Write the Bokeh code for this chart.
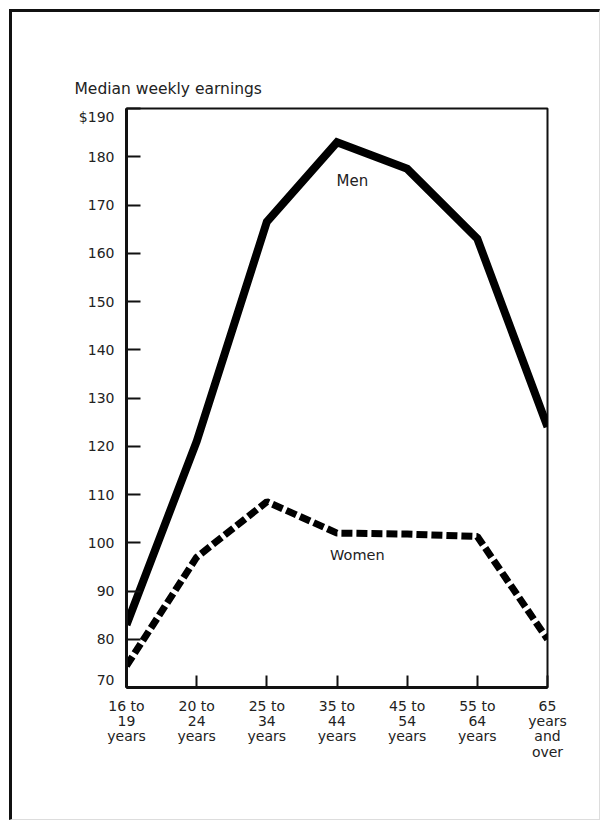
from bokeh.plotting import figure
from bokeh.models import FixedTicker, ColumnDataSource, Label
from bokeh.embed import file_html
from bokeh.resources import INLINE

# ---- data ----
age_groups = ["16 to\n19\nyears", "20 to\n24\nyears", "25 to\n34\nyears",
              "35 to\n44\nyears", "45 to\n54\nyears", "55 to\n64\nyears",
              "65\nyears\nand\nover"]
men = [83, 121, 166.5, 183, 177.5, 163, 124]
women = [74.5, 97, 108.5, 102, 101.8, 101.3, 80]
y_ticks = [70, 80, 90, 100, 110, 120, 130, 140, 150, 160, 170, 180, 190]
y_labels = ["70\n", "80", "90", "100", "110", "120", "130", "140", "150", "160", "170", "180", "\n$190"]

FONT = "DejaVu Sans"
idx = list(range(len(age_groups)))

p = figure(width=591, height=811, output_backend="svg", toolbar_location=None,
           x_range=(0, 6), y_range=(70, 190),
           min_border_left=114, min_border_right=56, min_border_top=96, min_border_bottom=136,
           title="Median weekly earnings")
p.styles = {"border-left": "3px solid #111", "border-top": "3px solid #111",
            "border-right": "1px solid #ddd", "border-bottom": "1px solid #ddd",
            "margin-left": "9px", "margin-top": "9px"}

p.title.text_font = FONT
p.title.text_font_style = "normal"
p.title.text_font_size = "15.5px"
p.title.text_color = "#222"
p.title.align = "left"
p.title.offset = -52
p.title.standoff = 21

p.outline_line_color = "#111"
p.outline_line_width = 2
p.xgrid.visible = False
p.ygrid.visible = False
p.background_fill_color = "white"

src_m = ColumnDataSource(dict(x=idx, y=men))
src_w = ColumnDataSource(dict(x=idx, y=women))
p.line("x", "y", source=src_m, line_color="black", line_width=8, line_join="miter")
p.line("x", "y", source=src_w, line_color="black", line_width=7, line_dash="11 4", line_cap="butt")

p.yaxis.ticker = FixedTicker(ticks=y_ticks)
p.yaxis.major_label_overrides = {t: l for t, l in zip(y_ticks, y_labels)}
p.xaxis.ticker = FixedTicker(ticks=idx)
p.xaxis.major_label_overrides = {i: l for i, l in zip(idx, age_groups)}

for ax in (p.xaxis[0], p.yaxis[0]):
    ax.axis_line_color = "#111"
    ax.axis_line_width = 3
    ax.major_tick_line_color = "#111"
    ax.major_tick_line_width = 2
    ax.major_tick_out = 0
    ax.minor_tick_line_color = None
    ax.major_label_text_font = FONT
    ax.major_label_text_color = "#222"

p.yaxis.major_tick_in = 14
p.yaxis.major_label_text_font_size = "14px"
p.yaxis.major_label_standoff = 12
p.yaxis.major_label_text_line_height = 1.0
p.xaxis.major_tick_in = 12
p.xaxis.major_label_text_font_size = "14px"
p.xaxis.major_label_standoff = 10
p.xaxis.major_label_text_line_height = 0.96

p.add_layout(Label(x=3.22, y=175, text="Men", text_font=FONT, text_font_size="15px",
                   text_color="#222", text_align="center", text_baseline="middle"))
p.add_layout(Label(x=3.29, y=97.4, text="Women", text_font=FONT, text_font_size="14.5px",
                   text_color="#222", text_align="center", text_baseline="middle"))

open("out.html", "w").write(file_html(p, INLINE))
